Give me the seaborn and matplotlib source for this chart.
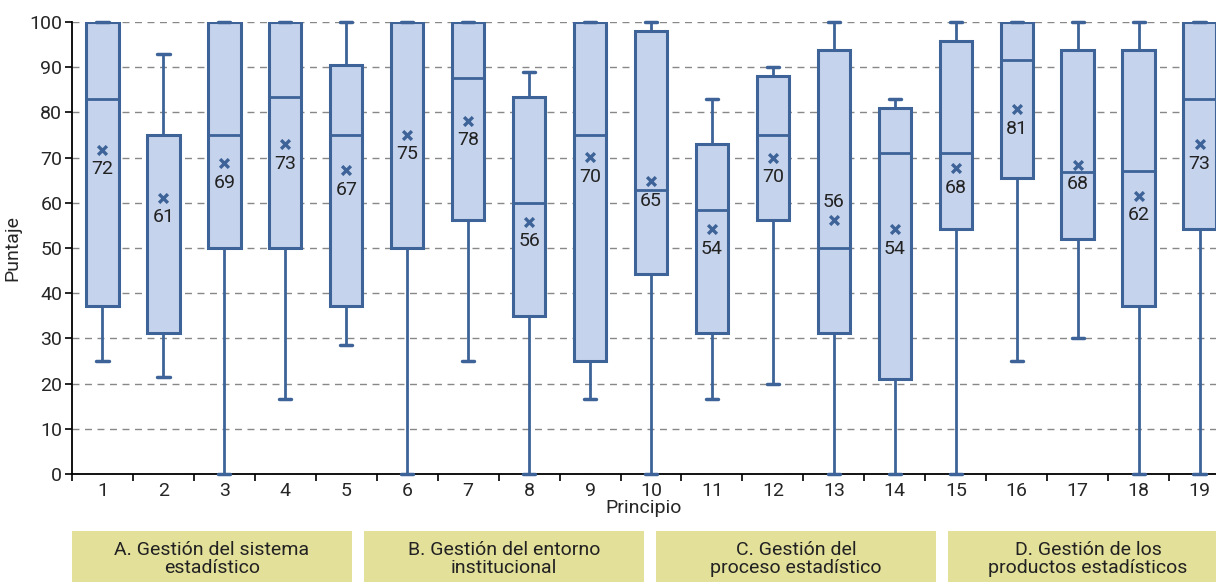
import seaborn as sns
import matplotlib.pyplot as plt
import pandas as pd
from matplotlib.patches import Rectangle

# datos
principios = list(range(1, 20))
q1 = [37.2, 31.2, 50, 50, 37.2, 50, 56.2, 35, 25, 44.2, 31.2, 56.2, 31.2, 21, 54.2, 65.5, 52, 37.2, 54.2]
mediana = [83, 75, 75, 83.3, 75, 100, 87.5, 60, 75, 62.8, 58.4, 75, 50, 71, 71, 91.5, 66.8, 67, 83]
q3 = [100, 75, 100, 100, 90.4, 100, 100, 83.4, 100, 97.9, 72.9, 88, 93.7, 81, 95.7, 100, 93.7, 93.7, 100]
bigote_min = [25, 21.4, 0, 16.7, 28.6, 0, 25, 0, 16.7, 0, 16.7, 20, 0, 0, 0, 25, 30, 0, 0]
bigote_max = [100, 92.9, 100, 100, 100, 100, 100, 88.9, 100, 100, 83, 90, 100, 83, 100, 100, 100, 100, 100]
media = [71.7, 61.1, 68.7, 72.9, 67.2, 75, 78.1, 55.8, 70.1, 64.8, 54.1, 70, 56.2, 54.1, 67.6, 80.7, 68.4, 61.6, 72.9]
etiqueta_arriba = [13]

grupos = ["A. Gestión del sistema\nestadístico",
          "B. Gestión del entorno\ninstitucional",
          "C. Gestión del\nproceso estadístico",
          "D. Gestión de los\nproductos estadísticos"]

azul = "#3D6398"
relleno = "#C6D3EC"
amarillo = "#E3E09A"

sns.set_style("white")
plt.rcParams['font.family'] = ['Roboto', 'DejaVu Sans']

W, H = 1216, 582
fig = plt.figure(figsize=(W / 100, H / 100), dpi=100)
ax = fig.add_axes([72 / W, 1 - 474 / H, (W - 72) / W, (474 - 22) / H])

stats = []
for i in range(len(principios)):
    stats.append(dict(med=mediana[i], q1=q1[i], q3=q3[i],
                      whislo=bigote_min[i], whishi=bigote_max[i], fliers=[]))

bp = ax.bxp(stats, positions=principios, widths=0.53, capwidths=0.2, patch_artist=True,
            boxprops=dict(facecolor=relleno, edgecolor=azul, linewidth=2.2),
            medianprops=dict(color=azul, linewidth=2),
            whiskerprops=dict(color=azul, linewidth=2),
            capprops=dict(color=azul, linewidth=2.5),
            showfliers=False, zorder=3)
for c in bp["caps"]:
    c.set_clip_on(False)

df = pd.DataFrame({"principio": principios, "media": media})
sns.scatterplot(data=df, x="principio", y="media", marker="x", s=40,
                color=azul, linewidth=2.4, ax=ax, zorder=5)

for p, m in zip(principios, media):
    dy = 13 if p in etiqueta_arriba else -14
    ax.annotate(f"{round(m)}", (p, m), xytext=(0, dy), textcoords="offset points",
                ha="center", va="center", fontsize=14, color="#222222", zorder=6)

ax.set_xlim(0.5, 19.27)
ax.set_ylim(0, 100)
ax.set_yticks(range(0, 101, 10))
ax.set_xticks(principios)
ax.set_xticks([p + 0.5 for p in range(0, 19)], minor=True)
ax.tick_params(axis="x", which="major", bottom=True, length=0, labelsize=14, pad=6)
ax.tick_params(axis="x", which="minor", bottom=True, length=5, width=1.2, direction="out", color="black")
ax.tick_params(axis="y", left=True, length=5, width=1.2, direction="out", color="black", labelsize=14, pad=2)
ax.yaxis.grid(True, linestyle=(0, (5, 4)), color="#888888", linewidth=1, zorder=0)
ax.set_axisbelow(True)
for s in ["top", "right"]:
    ax.spines[s].set_visible(False)
for s in ["left", "bottom"]:
    ax.spines[s].set_color("black")
    ax.spines[s].set_linewidth(1.3)
ax.set_xlabel("Principio", fontsize=14, labelpad=-1)
ax.set_ylabel("Puntaje", fontsize=14, labelpad=6)

for i, g in enumerate(grupos):
    x0 = 72 + i * 292
    fig.add_artist(Rectangle((x0 / W, 0), 280 / W, 1 - 531 / H, transform=fig.transFigure,
                             facecolor=amarillo, edgecolor="none"))
    fig.text((x0 + 140) / W, 1 - 541 / H, g, ha="center", va="top", fontsize=14,
             linespacing=1.0, color="#222222")

fig.savefig("out.png", dpi=100)
